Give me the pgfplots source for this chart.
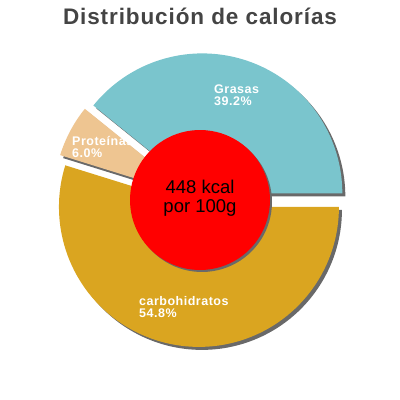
\documentclass[border=0pt]{standalone}
\usepackage{pgfplots}
\pgfplotsset{compat=1.18}
\usepackage{fontspec}
\setmainfont{Liberation Sans}
\newfontfamily\spaced[LetterSpace=4]{Liberation Sans}
\definecolor{grasas}{RGB}{122,197,205}
\definecolor{prot}{RGB}{238,197,145}
\definecolor{carbs}{RGB}{218,165,32}
\definecolor{titlegray}{RGB}{68,68,68}
\definecolor{shadow}{RGB}{105,105,105}

% percentages of the three slices
\def\pG{39.2}
\def\pP{6.0}
\def\pC{54.8}
\pgfmathsetmacro{\aG}{\pG*3.6}
\pgfmathsetmacro{\aP}{\aG+\pP*3.6}
\pgfmathsetmacro{\mG}{\aG/2}
\pgfmathsetmacro{\mP}{(\aG+\aP)/2}
\pgfmathsetmacro{\mC}{(\aP+360)/2}
% exploded slice centres
\pgfmathsetmacro{\gx}{200+7*cos(\mG)}\pgfmathsetmacro{\gy}{200+7*sin(\mG)}
\pgfmathsetmacro{\px}{200+7*cos(\mP)}\pgfmathsetmacro{\py}{200+7*sin(\mP)}
\pgfmathsetmacro{\cx}{200+7*cos(\mC)}\pgfmathsetmacro{\cy}{200+7*sin(\mC)}
\pgfmathsetmacro{\gxs}{\gx+3}\pgfmathsetmacro{\gys}{\gy-3}
\pgfmathsetmacro{\pxs}{\px+3}\pgfmathsetmacro{\pys}{\py-3}
\pgfmathsetmacro{\cxs}{\cx+3}\pgfmathsetmacro{\cys}{\cy-3}

\begin{document}
\begin{tikzpicture}
\begin{axis}[
    scale only axis,
    width=400pt, height=400pt,
    xmin=0, xmax=400, ymin=0, ymax=400,
    hide axis, clip=false,
    samples=90, variable=\t
]
\path (axis cs:0,0) rectangle (axis cs:400,400);
% shadows
\addplot[draw=none, fill=shadow, domain=0:\aG] ({\gxs+140*cos(t)},{\gys+140*sin(t)}) -- (axis cs:\gxs,\gys) -- cycle;
\addplot[draw=none, fill=shadow, domain=\aG:\aP] ({\pxs+140*cos(t)},{\pys+140*sin(t)}) -- (axis cs:\pxs,\pys) -- cycle;
\addplot[draw=none, fill=shadow, domain=\aP:360] ({\cxs+140*cos(t)},{\cys+140*sin(t)}) -- (axis cs:\cxs,\cys) -- cycle;
% slices
\addplot[draw=none, fill=grasas, domain=0:\aG] ({\gx+140*cos(t)},{\gy+140*sin(t)}) -- (axis cs:\gx,\gy) -- cycle;
\addplot[draw=none, fill=prot, domain=\aG:\aP] ({\px+140*cos(t)},{\py+140*sin(t)}) -- (axis cs:\px,\py) -- cycle;
\addplot[draw=none, fill=carbs, domain=\aP:360] ({\cx+140*cos(t)},{\cy+140*sin(t)}) -- (axis cs:\cx,\cy) -- cycle;
% centre
\addplot[draw=none, fill=shadow, domain=0:360] ({202+70*cos(t)},{198+70*sin(t)}) -- cycle;
\addplot[draw=none, fill=red, domain=0:360] ({200+70*cos(t)},{200+70*sin(t)}) -- cycle;

\node[anchor=base, text=titlegray, font=\spaced\fontsize{22.5}{22}\selectfont\bfseries] at (axis cs:200,375) {Distribución de calorías};
\node[align=center, font=\fontsize{18.5}{19}\selectfont] at (axis cs:200,202) {448 kcal\\por 100g};
\node[anchor=west, align=left, inner sep=0pt, text=white, font=\spaced\fontsize{12.5}{12}\selectfont\bfseries] at (axis cs:214,305) {Grasas\\39.2\%};
\node[anchor=west, align=left, inner sep=0pt, text=white, font=\spaced\fontsize{12.5}{12}\selectfont\bfseries] at (axis cs:72,253) {Proteínas\\6.0\%};
\node[anchor=west, align=left, inner sep=0pt, text=white, font=\spaced\fontsize{12.5}{12}\selectfont\bfseries] at (axis cs:139,92.5) {carbohidratos\\54.8\%};
\end{axis}
\end{tikzpicture}
\end{document}
